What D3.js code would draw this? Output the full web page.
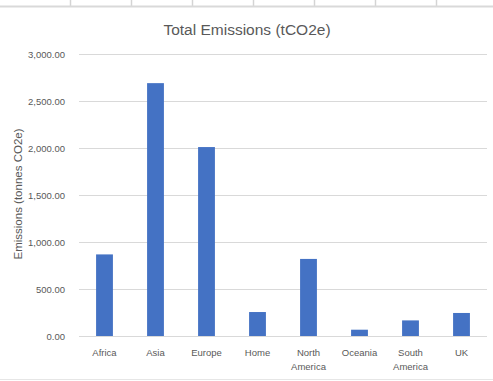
<!DOCTYPE html>
<html>
<head>
<meta charset="utf-8">
<script src="https://cdn.jsdelivr.net/npm/d3@7"></script>
<style>
  html, body { margin: 0; padding: 0; background: #fff; }
  svg { display: block; }
</style>
</head>
<body>
<svg id="chart" width="493" height="381"></svg>
<script>
// Regions and their total emissions (tCO2e)
const regions = ["Africa", "Asia", "Europe", "Home", "North America", "Oceania", "South America", "UK"];
const emissions = [868, 2690, 2010, 255, 820, 67, 166, 245];
const yTicks = [0, 500, 1000, 1500, 2000, 2500, 3000];

const svg = d3.select("#chart");
const W = 493, H = 381;
const margin = { top: 54, right: 6, bottom: 45, left: 79 };
const font = "'Liberation Sans', Arial, sans-serif";
const textColor = "#595959";

// Spreadsheet cell borders peeking above the chart
const cellEdges = [70, 131, 192, 253, 314, 375, 436];
svg.append("g").selectAll("line").data(cellEdges).join("line")
  .attr("x1", d => d + 0.5).attr("x2", d => d + 0.5)
  .attr("y1", 0).attr("y2", 6)
  .attr("stroke", "#d4d4d4").attr("stroke-width", 1.5);
svg.append("line").attr("x1", 0).attr("x2", W).attr("y1", 6.5).attr("y2", 6.5)
  .attr("stroke", "#d9d9d9").attr("stroke-width", 2);
svg.append("line").attr("x1", 0).attr("x2", W).attr("y1", 379.5).attr("y2", 379.5)
  .attr("stroke", "#e6e6e6").attr("stroke-width", 1);

const x = d3.scaleBand().domain(regions)
  .range([margin.left, W - margin.right])
  .paddingInner(0.67).paddingOuter(0.335);

const y = d3.scaleLinear().domain([0, 3000])
  .range([H - margin.bottom, margin.top]);

// Horizontal gridlines
svg.append("g")
  .attr("transform", `translate(${margin.left},0)`)
  .call(d3.axisLeft(y).tickValues(yTicks).tickSize(-(W - margin.right - margin.left)).tickFormat(""))
  .call(g => g.select(".domain").remove())
  .call(g => g.selectAll(".tick line").attr("stroke", "#d9d9d9").attr("stroke-width", 1));

// Y tick labels
svg.append("g")
  .attr("transform", `translate(${margin.left - 11},0)`)
  .call(d3.axisLeft(y).tickValues(yTicks).tickSize(0).tickFormat(d3.format(",.2f")))
  .call(g => g.select(".domain").remove())
  .call(g => g.selectAll("text").attr("fill", textColor)
    .style("font-family", font).style("font-size", "9.5px"));

// Bars
svg.append("g").selectAll("rect")
  .data(regions.map((r, i) => ({ r, v: emissions[i] })))
  .join("rect")
  .attr("x", d => x(d.r))
  .attr("width", x.bandwidth())
  .attr("y", d => y(d.v))
  .attr("height", d => y(0) - y(d.v))
  .attr("fill", "#4472C4");

// Category axis baseline
svg.append("line")
  .attr("x1", margin.left).attr("x2", W - margin.right)
  .attr("y1", y(0) + 0.5).attr("y2", y(0) + 0.5)
  .attr("stroke", "#d9d9d9");

// Category labels (wrapped onto two lines where needed)
const xl = svg.append("g").selectAll("text").data(regions).join("text")
  .attr("x", d => x(d) + x.bandwidth() / 2)
  .attr("y", y(0) + 19.5)
  .attr("text-anchor", "middle")
  .attr("fill", textColor)
  .style("font-family", font).style("font-size", "9.5px");
xl.each(function(d) {
  const words = d.split(" ");
  const t = d3.select(this);
  words.forEach((w, i) => {
    t.append("tspan").attr("x", x(d) + x.bandwidth() / 2)
      .attr("dy", i === 0 ? 0 : 14).text(w);
  });
});

// Title
svg.append("text")
  .attr("x", 247).attr("y", 34.5)
  .attr("text-anchor", "middle")
  .attr("fill", textColor)
  .style("font-family", font).style("font-size", "15.5px")
  .text("Total Emissions (tCO2e)");

// Y axis title
svg.append("text")
  .attr("transform", `translate(22,194) rotate(-90)`)
  .attr("text-anchor", "middle")
  .attr("fill", textColor)
  .style("font-family", font).style("font-size", "11.5px")
  .text("Emissions (tonnes CO2e)");
</script>
</body>
</html>
